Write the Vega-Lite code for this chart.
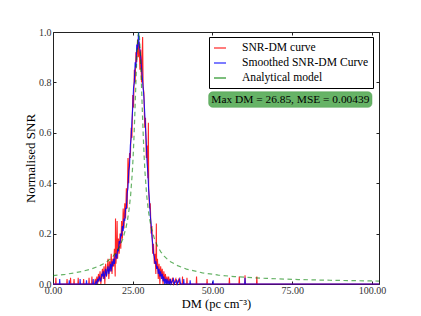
{
  "$schema": "https://vega.github.io/schema/vega-lite/v6.json",
  "width": 326,
  "height": 252,
  "autosize": {"type": "none"},
  "padding": {"left": 53, "top": 32, "right": 42, "bottom": 32},
  "background": "white",
  "config": {
    "view": {"stroke": "#222", "strokeWidth": 1},
    "font": "Liberation Serif",
    "axis": {
      "domain": false,
      "grid": false,
      "tickColor": "#222",
      "tickSize": -3,
      "labelFont": "Liberation Serif",
      "labelFontSize": 10,
      "labelColor": "#333",
      "titleFont": "Liberation Serif",
      "titleFontSize": 13,
      "titleFontWeight": "normal",
      "titleColor": "#000"
    }
  },
  "datasets": {
    "red": [
      {"x":0,"y":0},{"x":0.8,"y":0},{"x":0.9,"y":0.025},{"x":1.0,"y":0},
      {"x":4.3,"y":0},{"x":4.4,"y":0.02},{"x":4.5,"y":0},
      {"x":5.4,"y":0},{"x":5.5,"y":0.025},{"x":5.6,"y":0},
      {"x":6.5,"y":0},{"x":6.6,"y":0.02},{"x":6.7,"y":0},
      {"x":7.8,"y":0},{"x":7.9,"y":0.025},{"x":8.0,"y":0},
      {"x":9.5,"y":0},{"x":9.6,"y":0.02},{"x":9.7,"y":0},
      {"x":11.2,"y":0},{"x":11.3,"y":0.025},{"x":11.4,"y":0},
      {"x":12.1,"y":0},{"x":12.2,"y":0.03},{"x":12.3,"y":0},
      {"x":13,"y":0},{"x":13.25,"y":0.02},{"x":13.5,"y":0},{"x":13.75,"y":0.03},
      {"x":14,"y":0},{"x":14.25,"y":0.04},{"x":14.5,"y":0.01},{"x":14.75,"y":0.05},
      {"x":15,"y":0},{"x":15.25,"y":0.03},{"x":15.5,"y":0.06},{"x":15.75,"y":0.02},
      {"x":16,"y":0.07},{"x":16.25,"y":0},{"x":16.5,"y":0.08},{"x":16.75,"y":0.03},
      {"x":17,"y":0.06},{"x":17.25,"y":0.1},{"x":17.5,"y":0.02},{"x":17.75,"y":0.09},
      {"x":18,"y":0.05},{"x":18.25,"y":0.12},{"x":18.5,"y":0.04},{"x":18.75,"y":0.1},
      {"x":19,"y":0.07},{"x":19.25,"y":0.14},{"x":19.5,"y":0.03},{"x":19.6,"y":0.26},
      {"x":19.75,"y":0.08},{"x":20,"y":0.16},{"x":20.1,"y":0.25},{"x":20.25,"y":0.1},
      {"x":20.5,"y":0.18},{"x":20.75,"y":0.12},{"x":21,"y":0.2},{"x":21.25,"y":0.14},
      {"x":21.5,"y":0.25},{"x":21.75,"y":0.18},{"x":22,"y":0.3},{"x":22.25,"y":0.22},
      {"x":22.5,"y":0.32},{"x":22.75,"y":0.26},{"x":23,"y":0.38},{"x":23.25,"y":0.3},
      {"x":23.5,"y":0.5},{"x":23.75,"y":0.4},{"x":24,"y":0.52},{"x":24.25,"y":0.5},
      {"x":24.5,"y":0.62},{"x":24.75,"y":0.58},{"x":25,"y":0.75},{"x":25.25,"y":0.7},
      {"x":25.5,"y":0.85},{"x":25.75,"y":0.8},{"x":26,"y":0.92},{"x":26.25,"y":0.88},
      {"x":26.5,"y":0.97},{"x":26.75,"y":0.9},{"x":27,"y":0.96},{"x":27.25,"y":0.85},
      {"x":27.5,"y":0.93},{"x":27.75,"y":0.8},{"x":28.1,"y":0.98},{"x":28.25,"y":0.78},
      {"x":28.5,"y":0.76},{"x":28.75,"y":0.62},{"x":29,"y":0.66},{"x":29.25,"y":0.5},
      {"x":29.5,"y":0.55},{"x":29.75,"y":0.42},{"x":29.9,"y":0.64},{"x":30,"y":0.38},
      {"x":30.25,"y":0.3},{"x":30.5,"y":0.32},{"x":30.75,"y":0.2},{"x":31,"y":0.23},
      {"x":31.25,"y":0.12},{"x":31.5,"y":0.16},{"x":31.75,"y":0.08},{"x":32,"y":0.12},
      {"x":32.25,"y":0.04},{"x":32.4,"y":0.24},{"x":32.5,"y":0.06},{"x":32.75,"y":0.1},
      {"x":33,"y":0.02},{"x":33.25,"y":0.08},{"x":33.5,"y":0},{"x":33.75,"y":0.07},
      {"x":34,"y":0.03},{"x":34.25,"y":0.06},{"x":34.5,"y":0},{"x":34.75,"y":0.05},
      {"x":35,"y":0.01},{"x":35.25,"y":0.04},{"x":35.5,"y":0},{"x":35.75,"y":0.03},
      {"x":36,"y":0},{"x":36.25,"y":0.03},{"x":36.5,"y":0},{"x":36.75,"y":0.02},
      {"x":37,"y":0},{"x":37.5,"y":0.025},{"x":37.75,"y":0},{"x":38.5,"y":0.02},
      {"x":38.75,"y":0},{"x":39.5,"y":0.02},{"x":39.75,"y":0},
      {"x":40.5,"y":0},{"x":40.6,"y":0.03},{"x":40.7,"y":0},
      {"x":41.9,"y":0},{"x":42.0,"y":0.025},{"x":42.1,"y":0},
      {"x":44.9,"y":0},{"x":45.0,"y":0.03},{"x":45.1,"y":0},
      {"x":48.2,"y":0},{"x":48.3,"y":0.02},{"x":48.4,"y":0},
      {"x":55.2,"y":0},{"x":55.3,"y":0.025},{"x":55.4,"y":0},
      {"x":58.3,"y":0},{"x":58.4,"y":0.03},{"x":58.5,"y":0},
      {"x":60.1,"y":0},{"x":60.2,"y":0.035},{"x":60.3,"y":0},
      {"x":63.8,"y":0},{"x":63.9,"y":0.03},{"x":64.0,"y":0},
      {"x":102.2,"y":0}
    ],
    "blue": [
      {"x":0,"y":0},{"x":2.0,"y":0},{"x":2.1,"y":0.02},{"x":2.2,"y":0},
      {"x":5.0,"y":0},{"x":5.1,"y":0.015},{"x":5.2,"y":0},
      {"x":8.4,"y":0},{"x":8.5,"y":0.02},{"x":8.6,"y":0},
      {"x":10.4,"y":0},{"x":10.5,"y":0.015},{"x":10.6,"y":0},
      {"x":12.5,"y":0},{"x":12.6,"y":0.02},{"x":12.7,"y":0},
      {"x":13,"y":0},{"x":13.25,"y":0},{"x":13.5,"y":0.01},{"x":13.75,"y":0},
      {"x":14,"y":0.02},{"x":14.25,"y":0.01},{"x":14.5,"y":0.03},{"x":14.75,"y":0.02},
      {"x":15,"y":0.01},{"x":15.25,"y":0.04},{"x":15.5,"y":0.03},{"x":15.75,"y":0.05},
      {"x":16,"y":0.02},{"x":16.25,"y":0.04},{"x":16.5,"y":0.06},{"x":16.75,"y":0.03},
      {"x":17,"y":0.05},{"x":17.25,"y":0.07},{"x":17.5,"y":0.04},{"x":17.75,"y":0.06},
      {"x":18,"y":0.08},{"x":18.25,"y":0.05},{"x":18.5,"y":0.09},{"x":18.75,"y":0.07},
      {"x":19,"y":0.1},{"x":19.25,"y":0.08},{"x":19.5,"y":0.11},{"x":19.75,"y":0.12},
      {"x":20,"y":0.1},{"x":20.25,"y":0.14},{"x":20.5,"y":0.13},{"x":20.75,"y":0.17},
      {"x":21,"y":0.16},{"x":21.25,"y":0.2},{"x":21.5,"y":0.19},{"x":21.75,"y":0.23},
      {"x":22,"y":0.21},{"x":22.25,"y":0.26},{"x":22.5,"y":0.25},{"x":22.75,"y":0.3},
      {"x":23,"y":0.3},{"x":23.25,"y":0.36},{"x":23.5,"y":0.38},{"x":23.75,"y":0.45},
      {"x":24,"y":0.47},{"x":24.25,"y":0.55},{"x":24.5,"y":0.58},{"x":24.75,"y":0.65},
      {"x":25,"y":0.7},{"x":25.25,"y":0.78},{"x":25.5,"y":0.8},{"x":25.75,"y":0.88},
      {"x":26,"y":0.86},{"x":26.25,"y":0.95},{"x":26.5,"y":0.93},{"x":26.85,"y":1.0},
      {"x":27,"y":0.95},{"x":27.25,"y":0.93},{"x":27.5,"y":0.9},{"x":27.75,"y":0.86},
      {"x":28,"y":0.82},{"x":28.25,"y":0.78},{"x":28.5,"y":0.74},{"x":28.75,"y":0.68},
      {"x":29,"y":0.62},{"x":29.25,"y":0.56},{"x":29.5,"y":0.48},{"x":29.75,"y":0.44},
      {"x":30,"y":0.37},{"x":30.25,"y":0.33},{"x":30.5,"y":0.27},{"x":30.75,"y":0.24},
      {"x":31,"y":0.19},{"x":31.25,"y":0.16},{"x":31.5,"y":0.12},{"x":31.75,"y":0.11},
      {"x":32,"y":0.08},{"x":32.25,"y":0.09},{"x":32.5,"y":0.06},{"x":32.75,"y":0.07},
      {"x":33,"y":0.04},{"x":33.25,"y":0.06},{"x":33.5,"y":0.03},{"x":33.75,"y":0.05},
      {"x":34,"y":0.02},{"x":34.25,"y":0.04},{"x":34.5,"y":0.01},{"x":34.75,"y":0.03},
      {"x":35,"y":0},{"x":35.25,"y":0.02},{"x":35.5,"y":0},{"x":35.75,"y":0.02},
      {"x":36,"y":0},{"x":36.25,"y":0.01},{"x":36.5,"y":0},{"x":36.75,"y":0.02},
      {"x":37,"y":0},{"x":37.75,"y":0.02},{"x":38,"y":0},{"x":38.75,"y":0.015},
      {"x":39,"y":0},{"x":39.75,"y":0.02},{"x":40,"y":0},
      {"x":40.9,"y":0},{"x":41.0,"y":0.02},{"x":41.1,"y":0},
      {"x":42.9,"y":0},{"x":43.0,"y":0.015},{"x":43.1,"y":0},
      {"x":50.1,"y":0},{"x":50.2,"y":0.015},{"x":50.3,"y":0},
      {"x":60.1,"y":0},{"x":60.2,"y":0.025},{"x":60.3,"y":0},
      {"x":102.2,"y":0}
    ],
    "green": [
      {"x":0,"y":0.033},{"x":3.85,"y":0.0385},{"x":6.85,"y":0.0443},{"x":9.35,"y":0.0506},
      {"x":11.85,"y":0.0591},{"x":13.85,"y":0.0682},{"x":14.85,"y":0.0739},{"x":15.85,"y":0.0806},
      {"x":16.85,"y":0.0886},{"x":17.85,"y":0.0985},{"x":18.85,"y":0.1108},{"x":19.85,"y":0.1266},
      {"x":20.85,"y":0.1477},{"x":21.85,"y":0.1772},{"x":22.85,"y":0.2216},{"x":23.35,"y":0.2532},
      {"x":23.85,"y":0.2954},{"x":24.35,"y":0.3544},{"x":24.85,"y":0.441},{"x":25.1,"y":0.4997},
      {"x":25.35,"y":0.5708},{"x":25.6,"y":0.6543},{"x":25.85,"y":0.7468},{"x":26.1,"y":0.8404},
      {"x":26.35,"y":0.9225},{"x":26.6,"y":0.9795},{"x":26.85,"y":1.0},{"x":27.1,"y":0.9795},
      {"x":27.35,"y":0.9225},{"x":27.6,"y":0.8404},{"x":27.85,"y":0.7468},{"x":28.1,"y":0.6543},
      {"x":28.35,"y":0.5708},{"x":28.6,"y":0.4997},{"x":28.85,"y":0.441},{"x":29.35,"y":0.3544},
      {"x":29.85,"y":0.2954},{"x":30.35,"y":0.2532},{"x":30.85,"y":0.2216},{"x":31.85,"y":0.1772},
      {"x":32.85,"y":0.1477},{"x":33.85,"y":0.1266},{"x":34.85,"y":0.1108},{"x":35.85,"y":0.0985},
      {"x":36.85,"y":0.0886},{"x":38.85,"y":0.0739},{"x":41.85,"y":0.0591},{"x":46.85,"y":0.0443},
      {"x":51.85,"y":0.0354},{"x":56.85,"y":0.0295},{"x":66.85,"y":0.0222},{"x":76.85,"y":0.0177},
      {"x":86.85,"y":0.0148},{"x":100,"y":0.0121},{"x":102.2,"y":0.0118}
    ],
    "note": [
      {"x":48.8,"x2":100,"y":0.701,"y2":0.763,"xc":74.4,"yc":0.732,"t":"Max DM = 26.85, MSE = 0.00439"}
    ]
  },
  "resolve": {"axis": {"x": "independent", "y": "independent"}},
  "layer": [
    {
      "data": {"name": "red"},
      "mark": {"type": "line", "strokeWidth": 1.1, "opacity": 0.85},
      "encoding": {
        "x": {"field": "x", "type": "quantitative",
              "scale": {"domain": [0, 102.2], "nice": false, "zero": false},
              "axis": {"values": [0, 25, 50, 75, 100], "format": ".2f", "labelPadding": 4, "title": "DM (pc cm⁻³)", "titlePadding": 2, "titleFontSize": 12.5, "labelFlush": false}},
        "y": {"field": "y", "type": "quantitative",
              "scale": {"domain": [0, 1], "nice": false},
              "axis": {"values": [0, 0.2, 0.4, 0.6, 0.8, 1.0], "format": ".1f", "labelPadding": 5, "title": "Normalised SNR", "titlePadding": 1}},
        "color": {"datum": "SNR-DM curve",
                  "scale": {"domain": ["SNR-DM curve", "Smoothed SNR-DM Curve", "Analytical model"], "range": ["#ff0000", "#0000ff", "#008000"]},
                  "legend": {"orient": "none", "legendX": 156, "legendY": 5, "title": null,
                             "strokeColor": "#000", "fillColor": "#fff", "padding": 4, "cornerRadius": 0,
                             "symbolType": "stroke", "symbolSize": 144, "symbolStrokeWidth": 1.2,
                             "labelFont": "Liberation Serif", "labelFontSize": 11.6, "labelColor": "#000",
                             "rowPadding": 2, "labelOffset": 15,
                             "encode": {"symbols": {"update": {"strokeDash": {"signal": "datum.value === 'Analytical model' ? [5, 3] : [1, 0]"}, "opacity": {"signal": "datum.value === 'Analytical model' ? 0.6 : 0.7"}}}}}}
      }
    },
    {
      "data": {"name": "blue"},
      "mark": {"type": "line", "strokeWidth": 1.1, "opacity": 0.85},
      "encoding": {
        "x": {"field": "x", "type": "quantitative", "axis": null},
        "y": {"field": "y", "type": "quantitative", "axis": null},
        "color": {"datum": "Smoothed SNR-DM Curve"}
      }
    },
    {
      "data": {"name": "green"},
      "mark": {"type": "line", "strokeWidth": 1.2, "opacity": 0.6, "strokeDash": [4.5, 3.5]},
      "encoding": {
        "x": {"field": "x", "type": "quantitative",
              "axis": {"orient": "top", "values": [0, 25, 50, 75, 100], "labels": false, "title": null}},
        "y": {"field": "y", "type": "quantitative",
              "axis": {"orient": "right", "values": [0, 0.2, 0.4, 0.6, 0.8, 1.0], "labels": false, "title": null}},
        "color": {"datum": "Analytical model"}
      }
    },
    {
      "data": {"name": "note"},
      "mark": {"type": "rect", "fill": "#66b366", "cornerRadius": 4, "stroke": "#4f9f4f", "strokeWidth": 0.5},
      "encoding": {
        "x": {"field": "x", "type": "quantitative", "axis": null},
        "x2": {"field": "x2"},
        "y": {"field": "y", "type": "quantitative", "axis": null},
        "y2": {"field": "y2"}
      }
    },
    {
      "data": {"name": "note"},
      "mark": {"type": "text", "font": "Liberation Serif", "fontSize": 11.4, "color": "#000", "align": "center", "baseline": "middle"},
      "encoding": {
        "x": {"field": "xc", "type": "quantitative", "axis": null},
        "y": {"field": "yc", "type": "quantitative", "axis": null},
        "text": {"field": "t"}
      }
    }
  ]
}
